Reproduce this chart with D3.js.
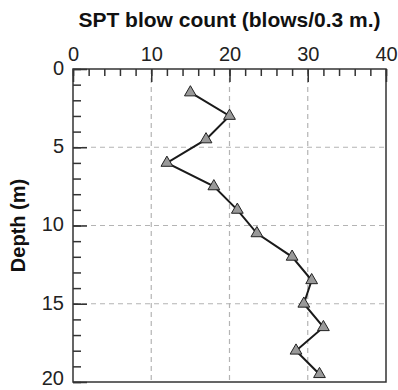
<!DOCTYPE html>
<html>
<head>
<meta charset="utf-8">
<script src="https://cdn.jsdelivr.net/npm/d3@7"></script>
<style>
  body { margin: 0; background: #fff; }
  svg text { font-family: "Liberation Sans", Arial, Helvetica, sans-serif; }
</style>
</head>
<body>
<svg id="chart" width="398" height="390"></svg>
<script>
// SPT blow count vs depth
const depth = [1.5, 3, 4.5, 6, 7.5, 9, 10.5, 12, 13.5, 15, 16.5, 18, 19.5];
const blows = [15, 20, 17, 12, 18, 21, 23.5, 28, 30.5, 29.5, 32, 28.5, 31.5];
const xTicks = [0, 10, 20, 30, 40];
const yTicks = [0, 5, 10, 15, 20];

const svg = d3.select("#chart");
const margin = { left: 73, top: 69, right: 12, bottom: 8 };
const width = 398 - margin.left - margin.right;
const height = 390 - margin.top - margin.bottom;

const x = d3.scaleLinear().domain([0, 40]).range([0, width]);
const y = d3.scaleLinear().domain([0, 20]).range([0, height]);

const g = svg.append("g").attr("transform", `translate(${margin.left},${margin.top})`);

// dashed grid at the major ticks (not on the frame)
g.selectAll(".vgrid").data(xTicks.slice(1, -1)).join("line")
  .attr("x1", d => x(d)).attr("x2", d => x(d))
  .attr("y1", 0).attr("y2", height)
  .attr("stroke", "#b4b4b4").attr("stroke-width", 1.2)
  .attr("stroke-dasharray", "5,4");
g.selectAll(".hgrid").data(yTicks.slice(1, -1)).join("line")
  .attr("x1", 0).attr("x2", width)
  .attr("y1", d => y(d)).attr("y2", d => y(d))
  .attr("stroke", "#b4b4b4").attr("stroke-width", 1.2)
  .attr("stroke-dasharray", "5,4");

// frame
g.append("rect")
  .attr("width", width).attr("height", height)
  .attr("fill", "none").attr("stroke", "#333").attr("stroke-width", 1.5);

// minor ticks
const minorX = g.append("g").call(d3.axisTop(x).tickValues(d3.range(0, 41, 2)).tickSize(-7).tickFormat(""));
const minorY = g.append("g").call(d3.axisLeft(y).tickValues(d3.range(0, 21, 1)).tickSize(-8).tickFormat(""));

// major ticks with labels
const xAxis = g.append("g")
  .call(d3.axisTop(x).tickValues(xTicks).tickSize(-13).tickPadding(8));
const yAxis = g.append("g")
  .call(d3.axisLeft(y).tickValues(yTicks).tickSize(-14).tickPadding(9));

[minorX, minorY, xAxis, yAxis].forEach(a => {
  a.select(".domain").remove();
  a.selectAll(".tick line").attr("stroke", "#333").attr("stroke-width", 1.5);
});
[xAxis, yAxis].forEach(a => {
  a.selectAll(".tick text")
    .attr("fill", "#222")
    .style("font-size", "20px");
});
// sit the depth labels a touch higher; the last one ("20") a bit more so it stays on the page
yAxis.selectAll(".tick text").attr("dy", d => d === 20 ? "0.12em" : "0.27em");

// profile line
const line = d3.line().x((d, i) => x(blows[i])).y(d => y(d));
g.append("path")
  .datum(depth)
  .attr("d", line)
  .attr("fill", "none")
  .attr("stroke", "#1a1a1a")
  .attr("stroke-width", 2);

// triangle markers
g.selectAll(".pt").data(depth).join("path")
  .attr("d", d3.symbol(d3.symbolTriangle, 60))
  .attr("transform", (d, i) => `translate(${x(blows[i])},${y(d)})`)
  .attr("fill", "#999")
  .attr("stroke", "#222")
  .attr("stroke-width", 1);

// titles
svg.append("text")
  .attr("x", margin.left + width / 2)
  .attr("y", 27)
  .attr("text-anchor", "middle")
  .style("font-size", "21px")
  .style("font-weight", "bold")
  .attr("fill", "#111")
  .text("SPT blow count (blows/0.3 m.)");

svg.append("text")
  .attr("transform", `translate(25,${margin.top + height / 2}) rotate(-90)`)
  .attr("text-anchor", "middle")
  .style("font-size", "20px")
  .style("font-weight", "bold")
  .attr("fill", "#111")
  .text("Depth (m)");
</script>
</body>
</html>
